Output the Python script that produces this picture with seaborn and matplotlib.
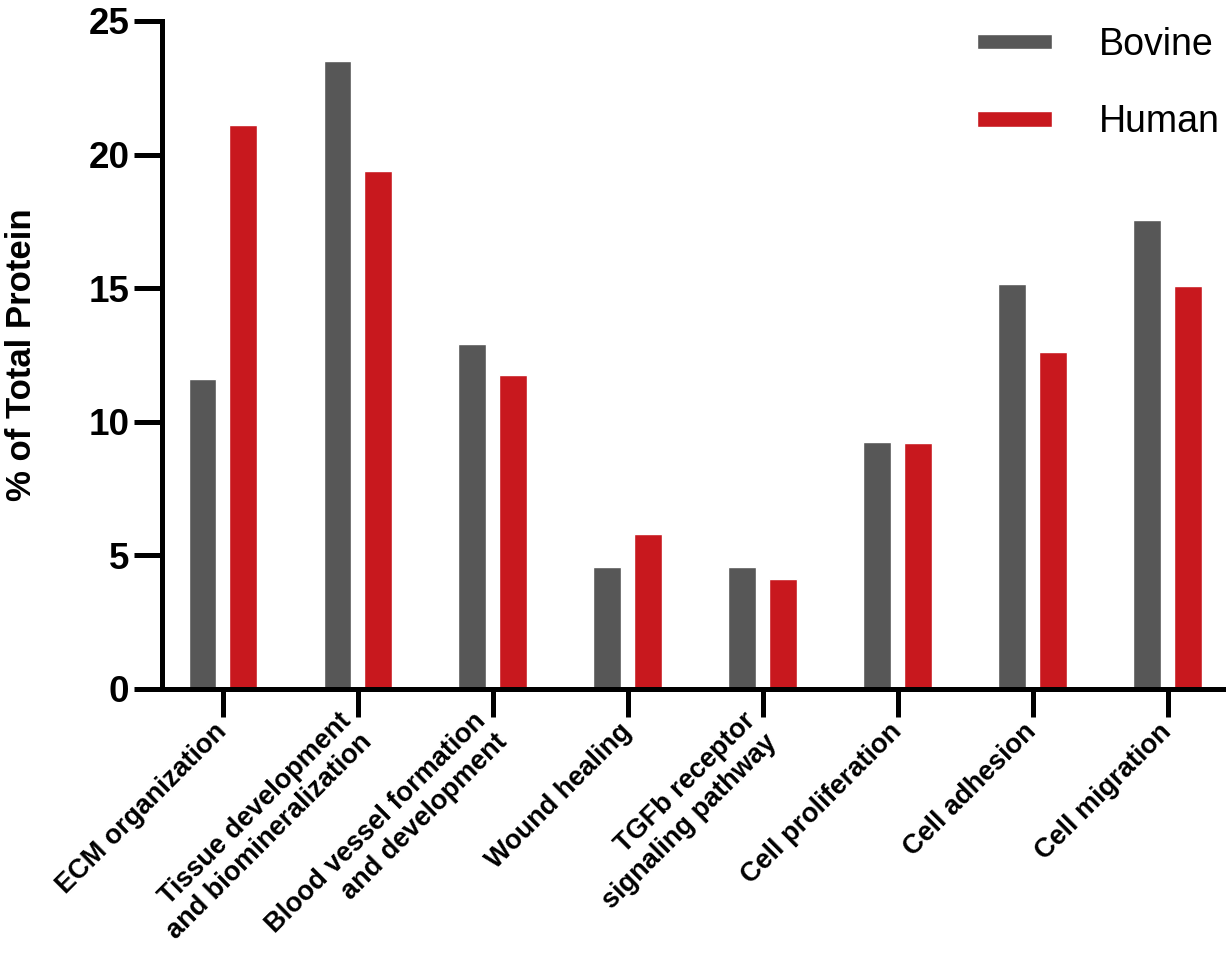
import pandas as pd
import matplotlib
matplotlib.use("Agg")
import matplotlib.pyplot as plt
import seaborn as sns

# values
categories = ["ECM organization", "Tissue development\nand biomineralization",
              "Blood vessel formation\nand development", "Wound healing",
              "TGFb receptor\nsignaling pathway", "Cell proliferation",
              "Cell adhesion", "Cell migration"]
bovine = [11.6, 23.5, 12.9, 4.55, 4.55, 9.25, 15.15, 17.55]
human = [21.1, 19.4, 11.75, 5.8, 4.1, 9.2, 12.6, 15.1]
species = ["Bovine", "Human"]
colors = ["#575757", "#c8181e"]

sns.set_style("ticks", {"axes.edgecolor": "black", "xtick.color": "black",
                        "ytick.color": "black", "text.color": "black",
                        "axes.labelcolor": "black"})
plt.rcParams["font.family"] = ["Liberation Sans", "DejaVu Sans"]

df = pd.DataFrame({
    "category": categories * 2,
    "species": ["Bovine"] * len(categories) + ["Human"] * len(categories),
    "value": bovine + human,
})

fig = plt.figure(figsize=(12.3, 9.67), dpi=100)
ax = fig.add_axes([0.1317, 0.2875, 0.8626, 0.6908])

sns.barplot(data=df, x="category", y="value", hue="species", palette=colors,
            width=0.6, gap=0.31, saturation=1, errorbar=None, ax=ax)

ax.set_ylim(0, 25)
ax.set_xlim(-0.45, 7.41)
ax.set_yticks([0, 5, 10, 15, 20, 25])
ax.set_xticks(range(len(categories)))
ax.set_xticklabels(categories, rotation=45, ha="right", va="center",
                   rotation_mode="anchor", fontsize=19.5, fontweight="bold")
for t in ax.get_yticklabels():
    t.set_fontsize(26.5)
    t.set_fontweight("bold")

sns.despine(ax=ax)
for side in ["left", "bottom"]:
    ax.spines[side].set_linewidth(3.6)
ax.tick_params(axis="y", length=20, width=3.6, pad=3.5)
ax.tick_params(axis="x", length=20, width=3.6, pad=8)

ax.set_xlabel("")
ax.set_ylabel("% of Total Protein", fontsize=25, fontweight="bold", va="center")
ax.yaxis.set_label_coords(-0.132, 0.5)

handles, labels = ax.get_legend_handles_labels()
ax.legend(handles, labels, loc="upper right",
          bbox_to_anchor=(1220 / 1230, 1 - 27 / 967), bbox_transform=fig.transFigure,
          frameon=False, fontsize=27, handlelength=2.0, handleheight=0.27,
          handletextpad=1.25, labelspacing=1.1, borderpad=0, borderaxespad=0)

fig.savefig("out.png", dpi=100)
